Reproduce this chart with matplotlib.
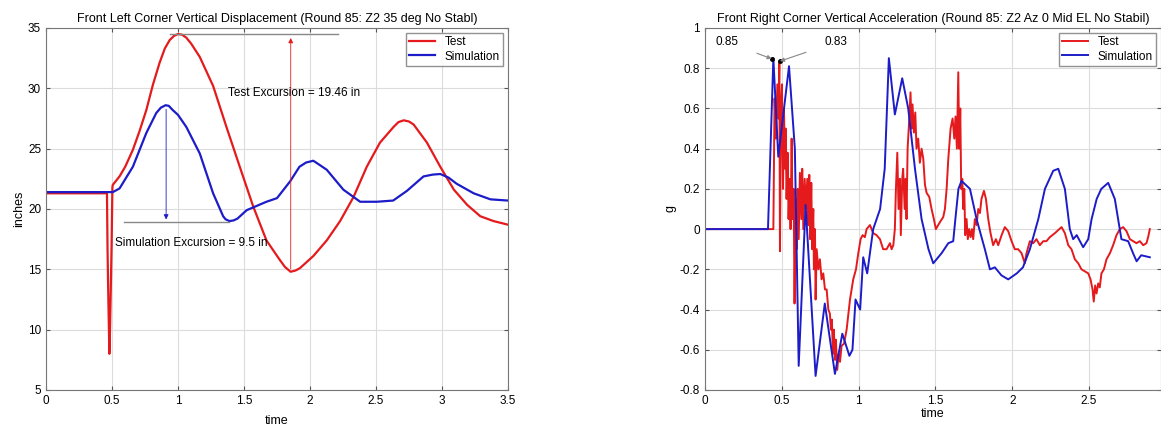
import matplotlib
matplotlib.use("Agg")
import matplotlib.pyplot as plt
import numpy as np

plt.rcParams['font.family'] = ['Liberation Sans', 'DejaVu Sans']

RED = '#e41a1c'
BLUE = '#1c1cc8'

# ---- left chart: vertical displacement (inches) ----
disp_test_t = [0, 0.30, 0.462, 0.466, 0.47, 0.48, 0.485, 0.497, 0.503, 0.506, 0.557, 0.60,
               0.658, 0.71, 0.76, 0.81, 0.86, 0.90, 0.937, 0.97, 1.0, 1.03, 1.063, 1.10,
               1.165, 1.266, 1.367, 1.468, 1.57, 1.67, 1.77, 1.81, 1.853, 1.89, 1.924,
               2.025, 2.127, 2.228, 2.33, 2.43, 2.53, 2.633, 2.67, 2.71, 2.75, 2.785, 2.886,
               2.987, 3.09, 3.19, 3.29, 3.39, 3.5]
disp_test = [21.3, 21.3, 21.3, 16.8, 14.0, 8.0, 10.0, 17.0, 21.8, 22.0, 22.7, 23.5,
             24.9, 26.5, 28.2, 30.3, 32.1, 33.3, 34.0, 34.35, 34.5, 34.45, 34.2, 33.7,
             32.6, 30.2, 26.8, 23.5, 20.2, 17.4, 15.8, 15.2, 14.8, 14.9, 15.1,
             16.1, 17.4, 19.0, 21.0, 23.5, 25.5, 26.8, 27.2, 27.35, 27.25, 27.0, 25.5,
             23.5, 21.6, 20.35, 19.4, 19.0, 18.7]

disp_sim_t = [0, 0.3, 0.506, 0.557, 0.658, 0.76, 0.835, 0.87, 0.906, 0.93, 0.96, 1.0,
              1.063, 1.165, 1.266, 1.342, 1.36, 1.39, 1.42, 1.45, 1.52, 1.67, 1.75, 1.85,
              1.92, 1.97, 2.025, 2.08, 2.127, 2.253, 2.38, 2.506, 2.63, 2.734, 2.86, 2.93,
              2.987, 3.05, 3.11, 3.24, 3.367, 3.5]
disp_sim = [21.4, 21.4, 21.4, 21.7, 23.5, 26.3, 27.95, 28.4, 28.6, 28.55, 28.2, 27.8,
            26.8, 24.6, 21.3, 19.4, 19.15, 19.0, 19.05, 19.2, 19.9, 20.6, 20.9, 22.3,
            23.5, 23.85, 24.0, 23.6, 23.25, 21.6, 20.6, 20.6, 20.7, 21.5, 22.7, 22.85,
            22.9, 22.6, 22.1, 21.3, 20.8, 20.7]

# ---- right chart: vertical acceleration (g) ----
acc_test_t = [0, 0.44, 0.445, 0.453, 0.462, 0.471, 0.479, 0.484, 0.488, 0.495, 0.501, 0.508,
              0.514, 0.521, 0.525, 0.531, 0.538, 0.544, 0.551, 0.557, 0.564, 0.570, 0.577,
              0.583, 0.59, 0.597, 0.603, 0.61, 0.618, 0.627, 0.633, 0.64, 0.649, 0.657,
              0.666, 0.672, 0.679, 0.685, 0.692, 0.698, 0.705, 0.709, 0.716, 0.72, 0.727,
              0.738, 0.748, 0.759, 0.77, 0.781, 0.792, 0.803, 0.813, 0.82, 0.826, 0.833,
              0.839, 0.846, 0.852, 0.861, 0.87, 0.879, 0.889, 0.905, 0.922, 0.944, 0.965,
              0.983, 0.998, 1.013, 1.026, 1.041, 1.052, 1.074, 1.095, 1.117, 1.139, 1.16,
              1.182, 1.204, 1.215, 1.226, 1.236, 1.243, 1.252, 1.26, 1.269, 1.275, 1.284,
              1.29, 1.3, 1.306, 1.312, 1.319, 1.33, 1.338, 1.345, 1.351, 1.36, 1.369, 1.377,
              1.388, 1.399, 1.41, 1.421, 1.432, 1.443, 1.46, 1.475, 1.49, 1.503, 1.518,
              1.534, 1.551, 1.562, 1.573, 1.584, 1.599, 1.612, 1.623, 1.631, 1.64, 1.649,
              1.655, 1.662, 1.668, 1.675, 1.681, 1.688, 1.694, 1.703, 1.711, 1.72, 1.729,
              1.738, 1.746, 1.757, 1.768, 1.779, 1.79, 1.8, 1.816, 1.829, 1.844, 1.859,
              1.876, 1.894, 1.909, 1.931, 1.952, 1.974, 1.996, 2.017, 2.039, 2.061, 2.082,
              2.093, 2.115, 2.137, 2.158, 2.18, 2.202, 2.223, 2.245, 2.278, 2.306, 2.321,
              2.343, 2.365, 2.386, 2.408, 2.43, 2.451, 2.473, 2.495, 2.51, 2.523, 2.531,
              2.54, 2.549, 2.56, 2.57, 2.581, 2.597, 2.614, 2.636, 2.657, 2.679, 2.701,
              2.722, 2.744, 2.766, 2.787, 2.809, 2.831, 2.853, 2.874, 2.885, 2.896]
acc_test = [0, 0, 0.0, 0.65, 0.45, 0.72, 0.55, 0.83, -0.11, 0.62, 0.72, 0.2,
            0.6, 0.3, 0.5, 0.15, 0.38, 0.05, 0.25, 0.0, 0.45, 0.05, 0.2,
            -0.37, 0.15, -0.1, 0.2, -0.05, 0.28, 0.05, 0.3, 0.0, 0.25, 0.1,
            0.25, 0.02, 0.27, -0.05, 0.23, -0.1, 0.1, -0.2, 0.0, -0.35, -0.1,
            -0.2, -0.15, -0.25, -0.22, -0.3, -0.3, -0.4, -0.42, -0.5, -0.45, -0.62,
            -0.5, -0.65, -0.55, -0.7, -0.62, -0.66, -0.58, -0.57, -0.5, -0.35, -0.25,
            -0.2, -0.12, -0.05, -0.03, -0.04, 0.0, 0.02, -0.02, -0.03, -0.05, -0.1,
            -0.1, -0.07, -0.1, -0.08, 0.0, 0.2, 0.38, 0.1, 0.25, -0.03, 0.25,
            0.3, 0.1, 0.25, 0.05, 0.4, 0.55, 0.68, 0.5, 0.62, 0.48, 0.58, 0.4,
            0.45, 0.33, 0.4, 0.35, 0.22, 0.18, 0.16, 0.1, 0.05, 0.0, 0.02,
            0.04, 0.06, 0.1, 0.2, 0.35, 0.5, 0.55, 0.45, 0.56, 0.4, 0.78,
            0.4, 0.6, 0.2, 0.25, 0.1, 0.2, -0.03, 0.05, -0.05, 0.0, -0.04,
            0.0, -0.05, 0.05, 0.02, 0.1, 0.08, 0.15, 0.19, 0.15, 0.05, -0.02,
            -0.08, -0.05, -0.08, -0.03, 0.01, -0.01, -0.06, -0.1, -0.1, -0.12, -0.17,
            -0.12, -0.06, -0.07, -0.05, -0.08, -0.06, -0.06, -0.04, -0.02, 0.0, 0.01,
            -0.02, -0.08, -0.1, -0.15, -0.17, -0.2, -0.21, -0.22, -0.25, -0.3, -0.36,
            -0.28, -0.32, -0.27, -0.29, -0.22, -0.2, -0.15, -0.12, -0.08, -0.03, 0.0,
            0.01, -0.01, -0.05, -0.06, -0.07, -0.06, -0.08, -0.07, -0.04, 0.0]

acc_sim_t = [0, 0.41, 0.445, 0.477, 0.547, 0.585, 0.61, 0.655, 0.72, 0.78, 0.846, 0.894,
             0.94, 0.96, 0.98, 1.01, 1.03, 1.056, 1.095, 1.14, 1.17, 1.197, 1.236, 1.284,
             1.323, 1.367, 1.41, 1.455, 1.486, 1.54, 1.584, 1.616, 1.63, 1.65, 1.67, 1.725,
             1.768, 1.822, 1.855, 1.887, 1.93, 1.974, 2.03, 2.07, 2.115, 2.17, 2.213,
             2.267, 2.3, 2.343, 2.375, 2.397, 2.42, 2.462, 2.495, 2.517, 2.55, 2.58,
             2.625, 2.668, 2.711, 2.755, 2.787, 2.81, 2.84, 2.896]
acc_sim = [0, 0, 0.85, 0.36, 0.81, 0.4, -0.68, 0.12, -0.73, -0.37, -0.72, -0.52,
           -0.63, -0.6, -0.35, -0.4, -0.14, -0.22, 0.0, 0.1, 0.3, 0.85, 0.57, 0.75,
           0.6, 0.3, 0.05, -0.1, -0.17, -0.12, -0.07, -0.06, 0.05, 0.2, 0.24, 0.2,
           0.05, -0.1, -0.2, -0.19, -0.23, -0.25, -0.22, -0.19, -0.1, 0.05, 0.2,
           0.29, 0.3, 0.2, 0.0, -0.05, -0.03, -0.09, -0.05, 0.05, 0.15, 0.2,
           0.23, 0.15, -0.05, -0.06, -0.12, -0.16, -0.13, -0.14]


def matlab_fmt(v, pos=None):
    return '%g' % (round(v, 2) + 0.0)


def style_axes(ax):
    ax.grid(True, color='#dcdcdc', linewidth=0.8)
    ax.set_axisbelow(True)
    ax.tick_params(direction='in', top=True, right=True, labelsize=8.5, length=3,
                   color='#555555')
    for s in ax.spines.values():
        s.set_color('#777777')
        s.set_linewidth(0.8)
    ax.xaxis.set_major_formatter(plt.FuncFormatter(matlab_fmt))
    ax.yaxis.set_major_formatter(plt.FuncFormatter(matlab_fmt))


fig = plt.figure(figsize=(11.61, 4.25), dpi=100)

# left
ax1 = fig.add_axes([46 / 1161, 35 / 425, 462 / 1161, 362 / 425])
ax1.plot(disp_test_t, disp_test, color=RED, lw=1.6, label='Test')
ax1.plot(disp_sim_t, disp_sim, color=BLUE, lw=1.6, label='Simulation')
ax1.set_xlim(0, 3.5)
ax1.set_ylim(5, 35)
ax1.set_xticks(np.arange(0, 3.51, 0.5))
ax1.set_yticks(np.arange(5, 36, 5))
style_axes(ax1)
ax1.set_title('Front Left Corner Vertical Displacement (Round 85: Z2 35 deg No Stabl)',
              fontsize=9, pad=4)
ax1.set_xlabel('time', fontsize=9, labelpad=6)
ax1.set_ylabel('inches', fontsize=9, labelpad=2)
ax1.legend(loc='upper right', fontsize=8.5, frameon=True, fancybox=False,
           edgecolor='#777777', handlelength=2.2, borderpad=0.3, labelspacing=0.2,
           borderaxespad=0.4)

ax1.plot([0.94, 2.21], [34.5, 34.5], color='#888888', lw=1.0)
ax1.plot([0.59, 1.39], [18.9, 18.9], color='#888888', lw=1.0)
ax1.annotate('', xy=(1.854, 34.4), xytext=(1.854, 14.8),
             arrowprops=dict(arrowstyle='-|>', color=RED, lw=0.6, mutation_scale=7))
ax1.annotate('', xy=(0.91, 18.9), xytext=(0.91, 28.5),
             arrowprops=dict(arrowstyle='-|>', color=BLUE, lw=0.6, mutation_scale=7))
ax1.text(1.375, 29.6, 'Test Excursion = 19.46 in', fontsize=8.5, va='center')
ax1.text(0.52, 17.2, 'Simulation Excursion = 9.5 in', fontsize=8.5, va='center')

# right
ax2 = fig.add_axes([705 / 1161, 35 / 425, 456 / 1161, 362 / 425])
ax2.plot(acc_test_t, acc_test, color=RED, lw=1.4, label='Test')
ax2.plot(acc_sim_t, acc_sim, color=BLUE, lw=1.4, label='Simulation')
ax2.set_xlim(0, 456 / 153.6)
ax2.set_ylim(-0.8, 1)
ax2.set_xticks(np.arange(0, 2.51, 0.5))
ax2.set_yticks(np.arange(-0.8, 1.01, 0.2))
style_axes(ax2)
ax2.set_title('Front Right Corner Vertical Acceleration (Round 85: Z2 Az 0 Mid EL No Stabil)',
              fontsize=9, pad=4)
ax2.set_xlabel('time', fontsize=9, labelpad=1)
ax2.set_ylabel('g', fontsize=9, labelpad=2)
ax2.legend(loc='upper right', fontsize=8.5, frameon=True, fancybox=False,
           edgecolor='#777777', handlelength=2.2, borderpad=0.3, labelspacing=0.2,
           borderaxespad=0.4)

for txt, pt, tpos in [('0.85', (0.434, 0.847), (0.143, 0.93)),
                      ('0.83', (0.488, 0.835), (0.853, 0.93))]:
    ax2.annotate(txt, xy=pt, xytext=tpos, fontsize=8.5, ha='center', va='center',
                 arrowprops=dict(arrowstyle='-|>', color='#888888', lw=0.8,
                                 mutation_scale=6, shrinkA=12, shrinkB=0))
    ax2.plot(pt[0], pt[1], marker='o', ms=2.5, color='black')

fig.savefig('out.png', dpi=100)
